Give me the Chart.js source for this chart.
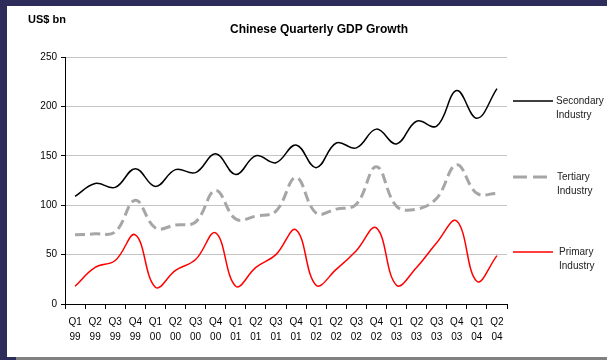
<!DOCTYPE html>
<html>
<head>
<meta charset="utf-8">
<script src="https://cdn.jsdelivr.net/npm/chart.js@4/dist/chart.umd.min.js"></script>
<style>
  html, body { margin: 0; padding: 0; background: #fff; }
  canvas { display: block; }
</style>
</head>
<body>
<canvas id="gdp" width="607" height="360"></canvas>
<script>
// Quarter labels (two rows: quarter / year)
const quarters = ['Q1','Q2','Q3','Q4','Q1','Q2','Q3','Q4','Q1','Q2','Q3','Q4',
                  'Q1','Q2','Q3','Q4','Q1','Q2','Q3','Q4','Q1','Q2'];
const years    = ['99','99','99','99','00','00','00','00','01','01','01','01',
                  '02','02','02','02','03','03','03','03','04','04'];

// Quarterly output by sector, US$ bn
const secondary = [109, 122, 118, 137, 119, 136, 133, 152, 131, 150, 143, 161,
                   138, 163, 158, 177, 162, 185, 180, 216, 188, 218];
const tertiary  = [70, 71, 73, 105, 77, 80, 83, 115, 86, 89, 94, 128,
                   92, 96, 101, 139, 99, 96, 107, 141, 112, 112];
const primary   = [18, 37, 44, 70, 17, 34, 45, 72, 18, 37, 50, 75,
                   19, 35, 54, 77, 19, 37, 62, 84, 23, 49];

const yTicks = [0, 50, 100, 150, 200, 250];
const seriesNames = ['Secondary Industry', 'Tertiary Industry', 'Primary Industry'];

const FONT = '"Liberation Sans", Arial, sans-serif';

// Slide frame behind the chart
const framePlugin = {
  id: 'frame',
  beforeDraw(chart) {
    const ctx = chart.ctx;
    ctx.save();
    ctx.fillStyle = '#2e2c5b';
    ctx.fillRect(0, 0, chart.width, chart.height);
    ctx.fillStyle = '#ffffff';
    ctx.fillRect(7, 6, chart.width - 7, 351);
    ctx.fillStyle = '#808080';
    ctx.fillRect(16, 357, chart.width - 16, 3);
    ctx.restore();
  }
};

// Title, unit label and line legend on the right
const textPlugin = {
  id: 'texts',
  afterDraw(chart) {
    const ctx = chart.ctx;
    ctx.save();
    ctx.fillStyle = '#000';
    ctx.textBaseline = 'middle';
    ctx.font = 'bold 12px ' + FONT;
    ctx.textAlign = 'center';
    ctx.fillText('Chinese Quarterly GDP Growth', 319, 30);
    ctx.textAlign = 'left';
    ctx.font = 'bold 11px ' + FONT;
    ctx.fillText('US$ bn', 28, 20);

    const legendY = [101, 177, 252];
    const textX = [556, 557, 559];
    chart.data.datasets.forEach((ds, i) => {
      const y = legendY[i];
      ctx.beginPath();
      ctx.strokeStyle = ds.borderColor;
      ctx.lineWidth = ds.borderWidth;
      ctx.setLineDash(ds.borderDash && ds.borderDash.length ? [14, 6] : []);
      ctx.moveTo(513, y);
      ctx.lineTo(553, y);
      ctx.stroke();
      ctx.setLineDash([]);
      ctx.fillStyle = '#222';
      ctx.font = '10px ' + FONT;
      const words = ds.label.split(' ');
      ctx.fillText(words[0], textX[i], y);
      ctx.fillText(words[1], textX[i], y + 14);
    });
    ctx.restore();
  }
};

new Chart(document.getElementById('gdp'), {
  type: 'line',
  data: {
    labels: quarters.map((q, i) => [q, years[i]]),
    datasets: [
      { label: seriesNames[0], data: secondary, borderColor: '#000000', borderWidth: 1.5,
        tension: 0.4, pointRadius: 0, fill: false, order: 1 },
      { label: seriesNames[1], data: tertiary, borderColor: '#a6a6a6', borderWidth: 3,
        borderDash: [10, 5], tension: 0.4, pointRadius: 0, fill: false, order: 3 },
      { label: seriesNames[2], data: primary, borderColor: '#ff0000', borderWidth: 1.5,
        tension: 0.4, pointRadius: 0, fill: false, order: 2 }
    ]
  },
  options: {
    responsive: false,
    devicePixelRatio: 1,
    animation: false,
    layout: { padding: { top: 57, right: 100, bottom: 0, left: 0 } },
    plugins: { legend: { display: false }, title: { display: false }, tooltip: { enabled: false } },
    scales: {
      x: {
        offset: true,
        afterFit(scale) { scale.height = 56; },
        grid: { display: true, drawOnChartArea: false, offset: true, tickLength: 5, tickColor: '#000' },
        border: { color: '#000', width: 1 },
        ticks: { color: '#000', font: { family: FONT, size: 10, lineHeight: 1.5 },
                 padding: 6, maxRotation: 0, minRotation: 0, autoSkip: false }
      },
      y: {
        min: yTicks[0],
        max: yTicks[yTicks.length - 1],
        afterFit(scale) { scale.width = 65; },
        afterBuildTicks(scale) { scale.ticks = yTicks.map(v => ({ value: v })); },
        grid: {
          color: c => (c.tick && c.tick.value === 0) ? 'rgba(0,0,0,0)' : '#c4c4c4',
          tickColor: '#000', tickLength: 4, lineWidth: 1
        },
        border: { color: '#000', width: 1 },
        ticks: { color: '#000', font: { family: FONT, size: 10 }, padding: 4 }
      }
    }
  },
  plugins: [framePlugin, textPlugin]
});
</script>
</body>
</html>
